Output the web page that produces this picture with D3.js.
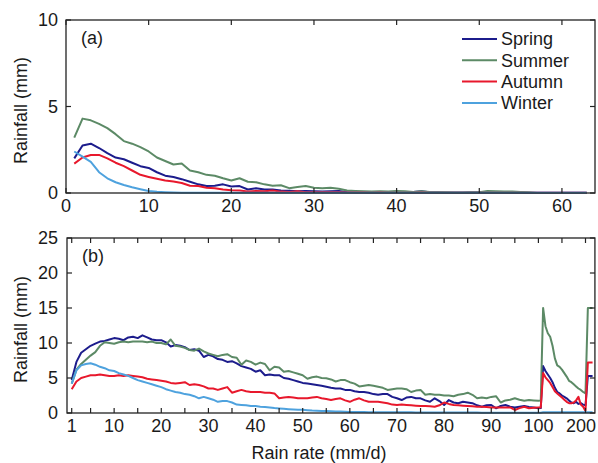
<!DOCTYPE html>
<meta charset="utf-8">
<script src="https://d3js.org/d3.v7.min.js"></script>
<style>
  body { margin: 0; background: #fff; }
  text { font-family: "Liberation Sans", Arial, sans-serif; fill: #1a1a1a; }
</style>
<div id="chart"></div>
<script>
  // ---- data ----
  const seasons = ["Spring", "Summer", "Autumn", "Winter"];
  const colors = ["#1c1c8c", "#5c8a66", "#e8182c", "#4ea2de"];

  // panel (a): rain rate 1..63 mm/d
  const rateA = d3.range(1, 64);
  const springA = [2.0, 2.75, 2.85, 2.6, 2.3, 2.05, 1.95, 1.75, 1.55, 1.45, 1.2, 1.0, 0.92, 0.8, 0.65, 0.5, 0.4, 0.42, 0.5, 0.38,
    0.4, 0.2, 0.28, 0.2, 0.2, 0.15, 0.13, 0.1, 0.12, 0.1, 0.08, 0.1, 0.12, 0.06, 0.05, 0.05, 0.04, 0.05, 0.04, 0.05,
    0.04, 0.06, 0.1, 0.05, 0.04, 0.03, 0.03, 0.03, 0.04, 0.05, 0.06, 0.05, 0.04, 0.03, 0.03, 0.02, 0.02, 0.02, 0.02, 0.02,
    0.02, 0.02, 0.02];
  const summerA = [3.2, 4.3, 4.2, 4.0, 3.75, 3.4, 3.0, 2.85, 2.65, 2.4, 2.05, 1.85, 1.65, 1.7, 1.3, 1.2, 1.05, 1.0, 0.85, 0.72,
    0.85, 0.65, 0.62, 0.5, 0.42, 0.45, 0.28, 0.35, 0.4, 0.3, 0.28, 0.3, 0.25, 0.15, 0.12, 0.1, 0.08, 0.1, 0.08, 0.12,
    0.1, 0.06, 0.1, 0.06, 0.04, 0.04, 0.03, 0.03, 0.04, 0.05, 0.12, 0.1, 0.08, 0.08, 0.06, 0.05, 0.0, 0.0, 0.0, 0.0,
    0.0, 0.0, 0.0];
  const autumnA = [1.7, 2.05, 2.2, 2.2, 2.0, 1.75, 1.55, 1.3, 1.05, 0.93, 0.82, 0.72, 0.66, 0.58, 0.42, 0.4, 0.3, 0.28, 0.2, 0.16,
    0.14, 0.08, 0.12, 0.1, 0.15, 0.08, 0.06, 0.1, 0.05, 0.05, 0.04, 0.04, 0.05, 0.03, 0.03, 0.03, 0.02, 0.03, 0.02, 0.02,
    0.02, 0.02, 0.03, 0.02, 0.02, 0.02, 0.02, 0.02, 0.02, 0.02, 0.02, 0.02, 0.02, 0.02, 0.02, 0.01, 0.01, 0.01, 0.01, 0.01,
    0.01, 0.01, 0.01];
  const winterA = [2.4, 2.1, 1.8, 1.2, 0.85, 0.62, 0.46, 0.33, 0.22, 0.12, 0.07, 0.05, 0.03, 0.02, 0.02, 0.02, 0.02, 0.02, 0.02, 0.02,
    0.02, 0.02, 0.02, 0.02, 0.02, 0.02, 0.02, 0.02, 0.02, 0.02, 0.02, 0.02, 0.02, 0.02, 0.02, 0.02, 0.02, 0.02, 0.02, 0.02,
    0.02, 0.02, 0.02, 0.02, 0.02, 0.02, 0.02, 0.02, 0.02, 0.02, 0.02, 0.02, 0.02, 0.02, 0.02, 0.02, 0.02, 0.02, 0.02, 0.02,
    0.02, 0.02, 0.02];

  // panel (b): rain rate 1..100 by 1, then 105..200 by 5, then >200
  const rateB = d3.range(1, 101).concat(d3.range(105, 201, 5), [205, 215]);
  const springB = [4.7, 7.3, 8.6, 9.1, 9.6, 9.9, 10.2, 10.3, 10.5, 10.7, 10.6, 10.4, 10.8, 10.9, 10.7, 11.1, 10.8, 10.5, 10.4, 10.4,
    10.1, 9.5, 9.7, 9.6, 9.4, 9.0, 9.1, 8.9, 8.0, 8.3, 8.1, 7.7, 7.6, 7.3, 7.4, 7.1, 6.7, 6.5, 6.3, 5.9,
    6.1, 5.4, 5.5, 5.4, 5.4, 5.0, 4.9, 4.7, 4.5, 4.3, 4.2, 4.1, 4.0, 3.9, 3.75, 3.6, 3.5, 3.5, 3.3, 3.3,
    3.1, 3.0, 3.0, 2.9, 2.7, 2.6, 2.7, 2.7, 2.3, 2.1, 1.85, 2.2, 2.3, 2.1, 2.1, 1.8, 1.6, 2.1, 1.7, 1.15,
    1.85, 1.5, 1.4, 1.6, 1.5, 1.4, 1.1, 0.9, 1.1, 1.15, 0.67, 1.0, 1.15, 0.9, 0.8, 0.9, 1.0, 0.85, 0.8, 0.67,
    0.7, 6.7, 6.0, 5.5, 5.0, 4.4, 3.6, 3.0, 2.8, 2.5, 2.3, 2.1, 1.8, 1.5, 1.4, 1.6, 1.3, 1.4, 1.2, 1.1,
    5.3, 5.3];
  const summerB = [4.2, 6.2, 7.0, 7.6, 8.2, 8.7, 9.6, 10.1, 10.0, 9.9, 10.1, 10.2, 10.1, 10.2, 10.2, 10.2, 10.1, 10.2, 10.0, 10.0,
    9.8, 10.5, 9.6, 9.5, 9.3, 9.0, 8.9, 9.2, 8.8, 8.5, 8.3, 8.1, 8.3, 8.4, 8.0, 7.9, 6.9, 7.5, 7.3, 6.9,
    7.2, 7.0, 6.1, 6.6, 6.5, 5.9, 6.0, 5.8, 5.6, 5.4, 4.9, 5.1, 5.2, 5.0, 4.95, 4.8, 4.5, 4.7, 4.7, 4.4,
    4.2, 3.8, 3.9, 4.0, 3.9, 3.75, 3.6, 3.3, 3.4, 3.5, 3.5, 3.4, 3.0, 3.2, 3.3, 2.6, 2.7, 2.6, 2.6, 2.5,
    2.5, 2.4, 2.6, 2.7, 2.9, 2.6, 2.1, 2.2, 2.1, 2.3, 2.4, 1.5, 1.8, 1.9, 2.1, 1.9, 1.75, 1.85, 1.8, 1.75,
    1.8, 15.0, 12.4, 11.4, 10.9, 9.6, 7.8, 6.8, 6.6, 6.2, 5.7, 5.2, 4.6, 4.4, 4.1, 3.8, 3.5, 3.3, 3.0, 2.8,
    15.0, 15.0];
  const autumnB = [3.4, 4.5, 5.0, 5.2, 5.4, 5.4, 5.5, 5.4, 5.3, 5.3, 5.4, 5.3, 5.4, 5.3, 5.2, 5.1, 4.9, 4.8, 4.7, 4.6,
    4.5, 4.3, 4.2, 4.3, 4.4, 4.0, 4.1, 4.0, 3.8, 3.5, 3.5, 3.3, 3.5, 3.7, 2.9, 3.1, 3.3, 3.1, 3.0, 3.0,
    3.0, 2.9, 2.9, 2.8, 2.1, 2.2, 2.3, 2.2, 2.1, 2.1, 2.1, 2.2, 2.3, 2.1, 2.0, 1.85, 2.0, 2.1, 1.8, 1.6,
    1.9, 2.1, 1.8, 1.6, 1.6, 1.6, 1.5, 1.4, 1.2, 1.15, 1.2, 1.15, 1.1, 1.05, 1.0, 1.0, 0.95, 0.9, 1.1, 1.5,
    1.3, 1.15, 1.1, 1.05, 1.0, 0.95, 0.9, 0.9, 0.85, 0.8, 0.8, 0.8, 0.8, 0.8, 0.43, 0.7, 0.9, 0.67, 0.75, 0.8,
    0.8, 5.7, 5.1, 4.7, 4.3, 3.7, 3.1, 2.8, 2.5, 2.2, 1.9, 1.6, 1.4, 1.4, 1.5, 1.8, 2.3, 1.2, 0.9, 0.3,
    7.2, 7.2];
  const winterB = [4.2, 6.1, 6.8, 7.0, 7.1, 6.9, 6.6, 6.4, 6.1, 6.0, 5.7, 5.5, 5.3, 5.0, 4.7, 4.5, 4.3, 4.1, 3.9, 3.7,
    3.4, 3.2, 3.0, 2.9, 2.7, 2.6, 2.4, 2.1, 2.3, 2.1, 1.9, 1.6, 1.7, 1.7, 1.5, 1.2, 1.15, 1.1, 1.0, 1.0,
    0.9, 0.85, 0.8, 0.7, 0.65, 0.6, 0.55, 0.5, 0.45, 0.45, 0.4, 0.35, 0.33, 0.3, 0.28, 0.25, 0.22, 0.2, 0.18, 0.16,
    0.15, 0.14, 0.13, 0.12, 0.12, 0.11, 0.1, 0.1, 0.1, 0.1, 0.09, 0.09, 0.09, 0.08, 0.08, 0.08, 0.08, 0.07, 0.07, 0.07,
    0.07, 0.07, 0.06, 0.06, 0.06, 0.06, 0.06, 0.05, 0.05, 0.05, 0.05, 0.05, 0.05, 0.05, 0.05, 0.05, 0.05, 0.05, 0.05, 0.05,
    0.05, 0.1, 0.1, 0.1, 0.1, 0.1, 0.1, 0.1, 0.1, 0.1, 0.1, 0.1, 0.1, 0.1, 0.1, 0.1, 0.1, 0.1, 0.1, 0.1,
    0.1, 0.1];

  const ticksAX = [0, 10, 20, 30, 40, 50, 60];
  const ticksAY = [0, 5, 10];
  const labelsBX = [1, 10, 20, 30, 40, 50, 60, 70, 80, 90, 100, 200];
  const minorBX = [1].concat(d3.range(5, 101, 5), [150, 200]);
  const ticksBY = [0, 5, 10, 15, 20, 25];

  // ---- layout ----
  const width = 598, height = 463;
  const svg = d3.select("#chart").append("svg")
    .attr("width", width).attr("height", height);

  const xA = d3.scaleLinear().domain([0, 64]).range([66, 595]);
  const yA = d3.scaleLinear().domain([0, 10]).range([193, 20]);
  // broken axis: 0-100 linear, 100-200 squeezed into the width of 10 units
  const xB = d3.scaleLinear().domain([0, 100, 200]).range([67, 538.4, 585.5]);
  const yB = d3.scaleLinear().domain([0, 25]).range([413, 238]);

  const tickLen = 5;

  function drawPanel(x, y, xmax, xTicks, xLabels, yTicks, rates, series, tag) {
    const g = svg.append("g");
    const x0 = x(0), x1 = x(xmax), y0 = y.range()[0], y1 = y.range()[1];

    // lines
    const line = d3.line().x((d, i) => x(rates[i])).y(d => y(d));
    series.forEach((s, k) => {
      g.append("path")
        .attr("d", line(s))
        .attr("fill", "none")
        .attr("stroke", colors[k])
        .attr("stroke-width", 2)
        .attr("stroke-linejoin", "round");
    });

    // box
    g.append("rect")
      .attr("x", x0).attr("y", y1)
      .attr("width", x1 - x0).attr("height", y0 - y1)
      .attr("fill", "none").attr("stroke", "#222").attr("stroke-width", 1.3);

    // inward ticks, bottom & top
    xTicks.forEach(t => {
      g.append("line").attr("x1", x(t)).attr("x2", x(t)).attr("y1", y0).attr("y2", y0 - tickLen)
        .attr("stroke", "#222").attr("stroke-width", 1.2);
      g.append("line").attr("x1", x(t)).attr("x2", x(t)).attr("y1", y1).attr("y2", y1 + tickLen)
        .attr("stroke", "#222").attr("stroke-width", 1.2);
    });
    yTicks.forEach(t => {
      g.append("line").attr("x1", x0).attr("x2", x0 + tickLen).attr("y1", y(t)).attr("y2", y(t))
        .attr("stroke", "#222").attr("stroke-width", 1.2);
      g.append("line").attr("x1", x1).attr("x2", x1 - tickLen).attr("y1", y(t)).attr("y2", y(t))
        .attr("stroke", "#222").attr("stroke-width", 1.2);
      g.append("text").attr("x", 58).attr("y", y(t)).attr("dy", "0.36em")
        .attr("text-anchor", "end").attr("font-size", 18).text(t);
    });
    xLabels.forEach(t => {
      const lbl = g.append("text").attr("x", x(t)).attr("y", y0 + 19)
        .attr("text-anchor", "middle").attr("font-size", 18).text(t);
      // keep the last label inside the page
      const w = lbl.node().getComputedTextLength();
      if (x(t) + w / 2 > width - 2) lbl.attr("x", width - 2 - w / 2);
    });

    // y label
    g.append("text")
      .attr("transform", `translate(27,${(y0 + y1) / 2 + 4}) rotate(-90)`)
      .attr("text-anchor", "middle").attr("font-size", 18)
      .text("Rainfall (mm)");

    // panel tag
    g.append("text").attr("x", x0 + 15).attr("y", y1 + 24)
      .attr("font-size", 18).text(tag);
  }

  drawPanel(xA, yA, 64, ticksAX, ticksAX, ticksAY, rateA,
    [springA, summerA, autumnA, winterA], "(a)");
  drawPanel(xB, yB, 220, minorBX, labelsBX, ticksBY, rateB,
    [springB, summerB, autumnB, winterB], "(b)");

  // x label
  svg.append("text")
    .attr("x", 319).attr("y", 459)
    .attr("text-anchor", "middle").attr("font-size", 18)
    .text("Rain rate (mm/d)");

  // legend
  const legend = svg.append("g").attr("transform", "translate(462,39)");
  seasons.forEach((s, i) => {
    legend.append("line").attr("x1", 0).attr("x2", 35).attr("y1", i * 21.3).attr("y2", i * 21.3)
      .attr("stroke", colors[i]).attr("stroke-width", 2);
    legend.append("text").attr("x", 39).attr("y", i * 21.3).attr("dy", "0.35em")
      .attr("font-size", 18).text(s);
  });
</script>
